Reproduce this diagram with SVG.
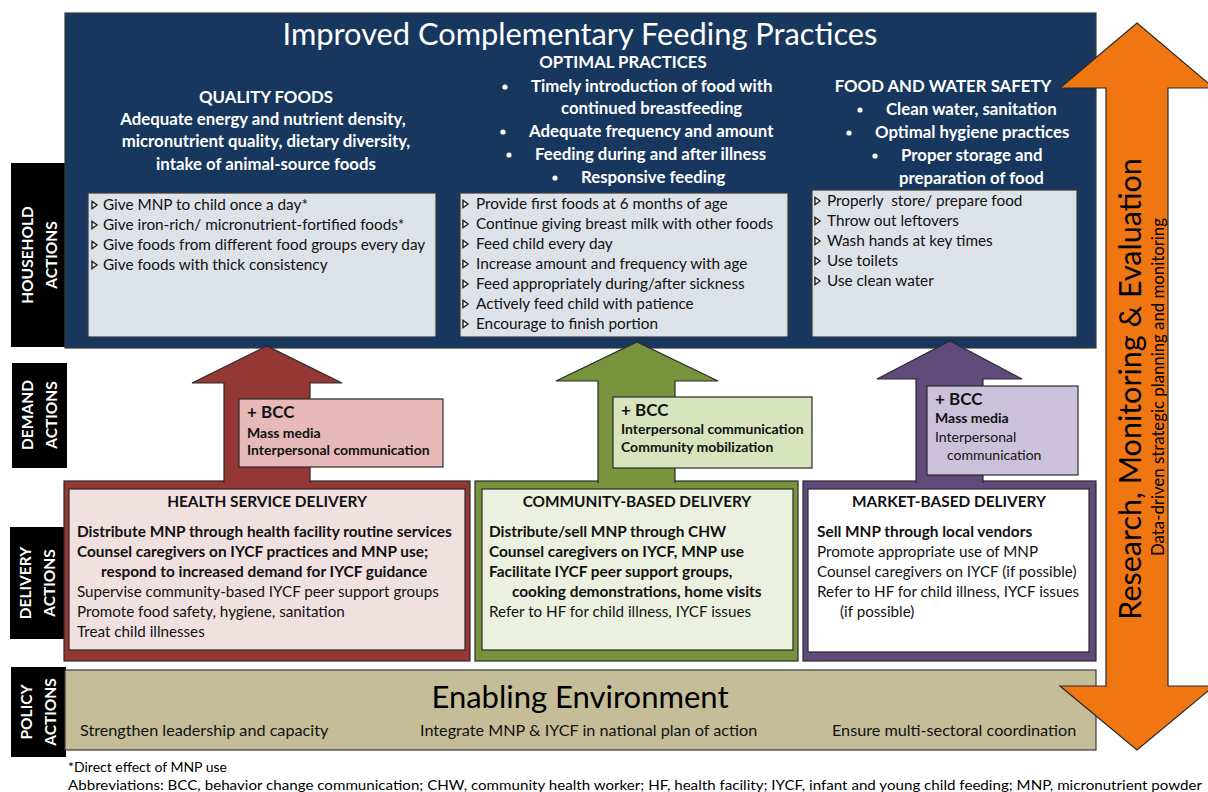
<svg xmlns="http://www.w3.org/2000/svg" xmlns:xlink="http://www.w3.org/1999/xlink" width="1208" height="792" viewBox="0 0 1208 792">
  <style>
    text { font-family: Lato, "Open Sans", "Liberation Sans", sans-serif; }
    .w { fill: #ffffff; }
    .k { fill: #000000; }
    .b { font-weight: 700; }
    .hd { font-size: 16.8px; font-weight: 700; fill: #ffffff; }
    .li { font-size: 15.3px; fill: #111111; }
    .dl { font-size: 15.2px; fill: #111111; }
    .dt { font-size: 15.4px; font-weight: 700; fill: #111111; }
    .pl { font-size: 16.2px; fill: #111111; }
    .lab { font-size: 15.5px; font-weight: 700; fill: #ffffff; text-anchor: middle; }
    .mid { text-anchor: middle; }
    .panel { stroke: #3a3a3a; stroke-width: 1.2; }
    .edge { stroke: #2a2a2a; stroke-width: 1.2; stroke-linejoin: miter; }
    .bcc1 { font-size: 17px; font-weight: 700; fill: #111111; }
    .bcc2 { font-size: 14px; fill: #111111; }
  </style>
  <defs>
    <path id="tri" d="M0,-3.6 L5,0 L0,3.6 Z" fill="#ffffff" stroke="#222222" stroke-width="1.4" stroke-linejoin="miter"/>
    <circle id="dot" r="2.6" fill="#ffffff"/>
  </defs>

  <rect width="1208" height="792" fill="#ffffff"/>

  <!-- row labels -->
  <g id="label-household">
    <rect x="11" y="163" width="55" height="184" fill="#000000"/>
    <g transform="translate(38,255) rotate(-90)">
      <text class="lab" y="-5">HOUSEHOLD</text>
      <text class="lab" y="19">ACTIONS</text>
    </g>
  </g>
  <g id="label-demand">
    <rect x="12" y="363" width="55" height="105" fill="#000000"/>
    <g transform="translate(38,415) rotate(-90)">
      <text class="lab" y="-5">DEMAND</text>
      <text class="lab" y="19">ACTIONS</text>
    </g>
  </g>
  <g id="label-delivery">
    <rect x="10" y="527" width="55" height="112" fill="#000000"/>
    <g transform="translate(36,583) rotate(-90)">
      <text class="lab" y="-5">DELIVERY</text>
      <text class="lab" y="19">ACTIONS</text>
    </g>
  </g>
  <g id="label-policy">
    <rect x="11" y="667" width="55" height="90" fill="#000000"/>
    <g transform="translate(37,712) rotate(-90)">
      <text class="lab" y="-5">POLICY</text>
      <text class="lab" y="19">ACTIONS</text>
    </g>
  </g>

  <!-- household practices panel -->
  <g id="household">
    <rect x="65" y="13" width="1031" height="335" fill="#17375e" class="panel"/>
    <text x="580" y="45" class="w mid" font-size="30.8">Improved Complementary Feeding Practices</text>

    <g id="quality-foods">
      <text x="266" y="103" class="hd mid">QUALITY FOODS</text>
      <text x="263" y="125" class="hd mid">Adequate energy and nutrient density,</text>
      <text x="266" y="147" class="hd mid">micronutrient quality, dietary diversity,</text>
      <text x="266" y="170" class="hd mid">intake of animal-source foods</text>
      <rect x="88" y="193" width="348" height="144" fill="#dde1e8" class="panel"/>
      <use xlink:href="#tri" x="92" y="205"/>
      <use xlink:href="#tri" x="92" y="225"/>
      <use xlink:href="#tri" x="92" y="245"/>
      <use xlink:href="#tri" x="92" y="265"/>
      <text x="103" y="210" class="li">Give MNP to child once a day*</text>
      <text x="103" y="230" class="li">Give iron-rich/ micronutrient-fortified foods*</text>
      <text x="103" y="250" class="li">Give foods from different food groups every day</text>
      <text x="103" y="270" class="li">Give foods with thick consistency</text>
    </g>

    <g id="optimal-practices">
      <text x="623" y="68" class="hd mid">OPTIMAL PRACTICES</text>
      <use xlink:href="#dot" x="505" y="87"/>
      <text x="531" y="92" class="hd">Timely introduction of food with</text>
      <text x="561" y="114" class="hd">continued breastfeeding</text>
      <use xlink:href="#dot" x="503" y="132"/>
      <text x="529" y="137" class="hd">Adequate frequency and amount</text>
      <use xlink:href="#dot" x="509" y="155"/>
      <text x="535" y="160" class="hd">Feeding during and after illness</text>
      <use xlink:href="#dot" x="555" y="178"/>
      <text x="581" y="183" class="hd">Responsive feeding</text>
      <rect x="460" y="193" width="328" height="144" fill="#dde1e8" class="panel"/>
      <use xlink:href="#tri" x="463" y="204"/>
      <use xlink:href="#tri" x="463" y="224"/>
      <use xlink:href="#tri" x="463" y="244"/>
      <use xlink:href="#tri" x="463" y="264"/>
      <use xlink:href="#tri" x="463" y="284"/>
      <use xlink:href="#tri" x="463" y="304"/>
      <use xlink:href="#tri" x="463" y="324"/>
      <text x="476" y="209" class="li">Provide first foods at 6 months of age</text>
      <text x="476" y="229" class="li">Continue giving breast milk with other foods</text>
      <text x="476" y="249" class="li">Feed child every day</text>
      <text x="476" y="269" class="li">Increase amount and frequency with age</text>
      <text x="476" y="289" class="li">Feed appropriately during/after sickness</text>
      <text x="476" y="309" class="li">Actively feed child with patience</text>
      <text x="476" y="329" class="li">Encourage to finish portion</text>
    </g>

    <g id="food-water-safety">
      <text x="943" y="92" class="hd mid">FOOD AND WATER SAFETY</text>
      <use xlink:href="#dot" x="860" y="110"/>
      <text x="886" y="115" class="hd">Clean water, sanitation</text>
      <use xlink:href="#dot" x="849" y="133"/>
      <text x="875" y="138" class="hd">Optimal hygiene practices</text>
      <use xlink:href="#dot" x="875" y="156"/>
      <text x="901" y="161" class="hd">Proper storage and</text>
      <text x="899" y="184" class="hd">preparation of food</text>
      <rect x="812" y="190" width="265" height="147" fill="#dde1e8" class="panel"/>
      <use xlink:href="#tri" x="815" y="201"/>
      <use xlink:href="#tri" x="815" y="221"/>
      <use xlink:href="#tri" x="815" y="241"/>
      <use xlink:href="#tri" x="815" y="261"/>
      <use xlink:href="#tri" x="815" y="281"/>
      <text x="827" y="206" class="li">Properly&#160; store/ prepare food</text>
      <text x="827" y="226" class="li">Throw out leftovers</text>
      <text x="827" y="246" class="li">Wash hands at key times</text>
      <text x="827" y="266" class="li">Use toilets</text>
      <text x="827" y="286" class="li">Use clean water</text>
    </g>
  </g>

  <!-- delivery channel frames -->
  <g id="health-service-delivery">
    <rect x="64" y="481" width="406" height="180" fill="#953735" class="edge"/>
    <rect x="69" y="489" width="396" height="161" fill="#f0e0e0" class="edge"/>
    <text x="267" y="507" class="dt mid">HEALTH SERVICE DELIVERY</text>
    <text x="77" y="537" class="dt">Distribute MNP through health facility routine services</text>
    <text x="77" y="557" class="dt">Counsel caregivers on IYCF practices and MNP use;</text>
    <text x="101" y="577" class="dt">respond to increased demand for IYCF guidance</text>
    <text x="77" y="597" class="dl">Supervise community-based IYCF peer support groups</text>
    <text x="77" y="617" class="dl">Promote food safety, hygiene, sanitation</text>
    <text x="77" y="637" class="dl">Treat child illnesses</text>
  </g>
  <g id="community-based-delivery">
    <rect x="475" y="481" width="323" height="180" fill="#77933c" class="edge"/>
    <rect x="482" y="489" width="311" height="161" fill="#ebf1de" class="edge"/>
    <text x="637" y="507" class="dt mid">COMMUNITY-BASED DELIVERY</text>
    <text x="489" y="537" class="dt">Distribute/sell MNP through CHW</text>
    <text x="489" y="557" class="dt">Counsel caregivers on IYCF, MNP use</text>
    <text x="489" y="577" class="dt">Facilitate IYCF peer support groups,</text>
    <text x="512" y="597" class="dt">cooking demonstrations, home visits</text>
    <text x="489" y="617" class="dl">Refer to HF for child illness, IYCF issues</text>
  </g>
  <g id="market-based-delivery">
    <rect x="803" y="481" width="293" height="180" fill="#604a7b" class="edge"/>
    <rect x="808" y="489" width="281" height="163" fill="#ffffff" class="edge"/>
    <text x="949" y="507" class="dt mid">MARKET-BASED DELIVERY</text>
    <text x="817" y="537" class="dt">Sell MNP through local vendors</text>
    <text x="817" y="557" class="dl">Promote appropriate use of MNP</text>
    <text x="817" y="577" class="dl">Counsel caregivers on IYCF (if possible)</text>
    <text x="817" y="597" class="dl">Refer to HF for child illness, IYCF issues</text>
    <text x="840" y="617" class="dl">(if possible)</text>
  </g>

  <!-- block arrows rising from each delivery channel (open at the base so they merge with the frame) -->
  <g id="connectors">
    <path d="M224,483 L224,383 L192,383 L267,346 L342,383 L310,383 L310,483" fill="#953735" class="edge"/>
    <path d="M598,483 L598,381 L556,381 L637,342 L718,381 L675,381 L675,483" fill="#77933c" class="edge"/>
    <path d="M916,483 L916,379 L877,379 L950,341 L1022,379 L983,379 L983,483" fill="#604a7b" class="edge"/>
  </g>

  <!-- demand-side communication boxes -->
  <g id="bcc-health">
    <rect x="239" y="399" width="204" height="68" fill="#e6b9b8" class="edge"/>
    <text x="247" y="418" class="bcc1">+ BCC</text>
    <text x="247" y="438" class="bcc2 b">Mass media</text>
    <text x="247" y="455" class="bcc2 b">Interpersonal communication</text>
  </g>
  <g id="bcc-community">
    <rect x="613" y="397" width="199" height="71" fill="#d7e4bd" class="edge"/>
    <text x="621" y="416" class="bcc1">+ BCC</text>
    <text x="621" y="434" class="bcc2 b">Interpersonal communication</text>
    <text x="621" y="452" class="bcc2 b">Community mobilization</text>
  </g>
  <g id="bcc-market">
    <rect x="927" y="386" width="151" height="89" fill="#ccc1da" class="edge"/>
    <text x="935" y="405" class="bcc1">+ BCC</text>
    <text x="935" y="423" class="bcc2 b">Mass media</text>
    <text x="935" y="442" class="bcc2">Interpersonal</text>
    <text x="947" y="460" class="bcc2">communication</text>
  </g>

  <!-- policy band -->
  <g id="enabling-environment">
    <rect x="65" y="670" width="1031" height="80" fill="#c4bd97" class="panel"/>
    <text x="580" y="708" class="k mid" font-size="31">Enabling Environment</text>
    <text x="80" y="736" class="pl">Strengthen leadership and capacity</text>
    <text x="420" y="736" class="pl">Integrate MNP &amp; IYCF in national plan of action</text>
    <text x="832" y="736" class="pl">Ensure multi-sectoral coordination</text>
  </g>

  <!-- research / monitoring double arrow -->
  <g id="research-monitoring">
    <path d="M1137,23 L1214,88 L1168,88 L1168,686 L1214,686 L1137,750 L1060,686 L1106,686 L1106,88 L1060,88 Z" fill="#f07612" class="edge"/>
    <g transform="translate(1141,389) rotate(-90)">
      <text class="k mid" font-size="30.5">Research, Monitoring &amp; Evaluation</text>
    </g>
    <g transform="translate(1164,387) rotate(-90)">
      <text class="k mid" font-size="16.8">Data-driven strategic planning and monitoring</text>
    </g>
  </g>

  <!-- notes -->
  <g id="notes">
    <text x="68" y="772" class="k" font-size="14">*Direct effect of MNP use</text>
    <text x="68" y="790" class="k" font-size="14" textLength="1134" lengthAdjust="spacingAndGlyphs">Abbreviations: BCC, behavior change communication; CHW, community health worker; HF, health facility; IYCF, infant and young child feeding; MNP, micronutrient powder</text>
  </g>
</svg>
